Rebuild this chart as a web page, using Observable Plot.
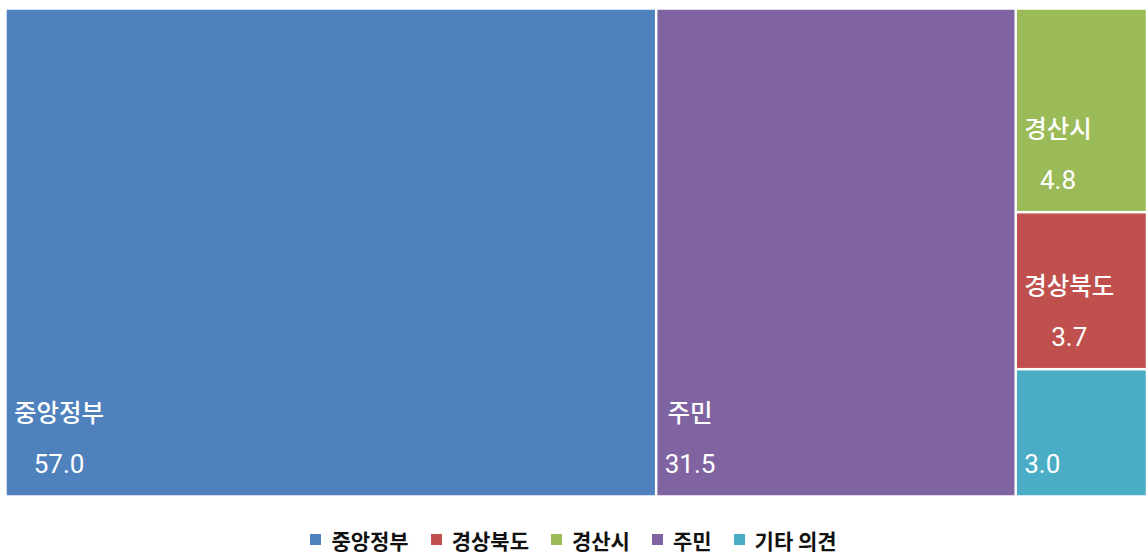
<!DOCTYPE html>
<html><head><meta charset="utf-8">
<script src="https://cdn.jsdelivr.net/npm/d3@7"></script>
<script src="https://cdn.jsdelivr.net/npm/@observablehq/plot@0.6"></script>
<style>
body{margin:0;background:#fff;font-family:Roboto,"Noto Sans CJK KR",sans-serif;}
#legend{display:flex;justify-content:center;align-items:center;gap:22px;margin-top:16px;font-size:21px;font-weight:700;color:#111;font-family:"Noto Sans CJK KR",sans-serif;}
#legend .it{display:flex;align-items:center;gap:10px;}
#legend .sw{width:11px;height:11px;display:inline-block;}
</style></head>
<body><div id="chart"></div><div id="legend"></div>
<script>
const categories = ["중앙정부", "경상북도", "경산시", "주민", "기타 의견"];
const values = [57.0, 3.7, 4.8, 31.5, 3.0];
const colors = ["#4F81BD", "#C0504D", "#9BBB59", "#8064A2", "#4BACC6"];

const width = 1147, mL = 5.5, mT = 8.5, W = 1141.5, H = 488, mB = 12;
const nameSize = 24.5, valSize = 26;
const nameFont = `500 ${nameSize}px "Noto Sans CJK KR"`;
const valFont = `400 ${valSize}px Roboto`;

const data = categories.map((c, i) => ({name: c, value: values[i], color: colors[i]}));
const root = d3.hierarchy({children: data}).sum(d => d.value || 0).sort((a, b) => b.value - a.value);
d3.treemap().tile(d3.treemapSquarify).size([W, H]).round(false)(root);

const ctx = document.createElement("canvas").getContext("2d");
const cells = root.leaves().map(l => {
  const d = l.data, h = l.y1 - l.y0;
  const showName = h > 140;
  ctx.font = nameFont;
  const wl = showName ? ctx.measureText(d.name).width : 0;
  const valText = d.value.toFixed(1);
  ctx.font = valFont;
  const wv = ctx.measureText(valText).width;
  const cx = l.x0 + 8 + Math.max(wl, wv) / 2;
  return {name: d.name, color: d.color, x0: l.x0, x1: l.x1, y0: l.y0, y1: l.y1,
          showName, valText, cx, ly: l.y1 - 83, vy: l.y1 - 32};
});

const chart = Plot.plot({
  width, height: mT + H + mB,
  marginLeft: mL, marginTop: mT, marginRight: width - mL - W, marginBottom: mB,
  x: {domain: [0, W], range: [mL, mL + W], axis: null},
  y: {domain: [0, H], range: [mT, mT + H], axis: null},
  style: {fontFamily: 'Roboto, "Noto Sans CJK KR", sans-serif', background: "#fff"},
  marks: [
    Plot.rect(cells, {x1: "x0", x2: "x1", y1: "y0", y2: "y1", fill: "color", inset: 1.25}),
    Plot.text(cells.filter(d => d.showName), {x: "cx", y: "ly", text: "name", fill: "white",
      fontSize: nameSize, fontWeight: 500, fontFamily: '"Noto Sans CJK KR"', textAnchor: "middle", lineAnchor: "middle"}),
    Plot.text(cells, {x: "cx", y: "vy", text: "valText", fill: "white",
      fontSize: valSize, fontWeight: 400, fontFamily: "Roboto", textAnchor: "middle", lineAnchor: "middle"})
  ]
});
document.getElementById("chart").appendChild(chart);

const lg = document.getElementById("legend");
categories.forEach((c, i) => {
  const it = document.createElement("span"); it.className = "it";
  const sw = document.createElement("span"); sw.className = "sw"; sw.style.background = colors[i];
  const tx = document.createElement("span"); tx.textContent = c;
  it.appendChild(sw); it.appendChild(tx); lg.appendChild(it);
});
</script></body></html>
